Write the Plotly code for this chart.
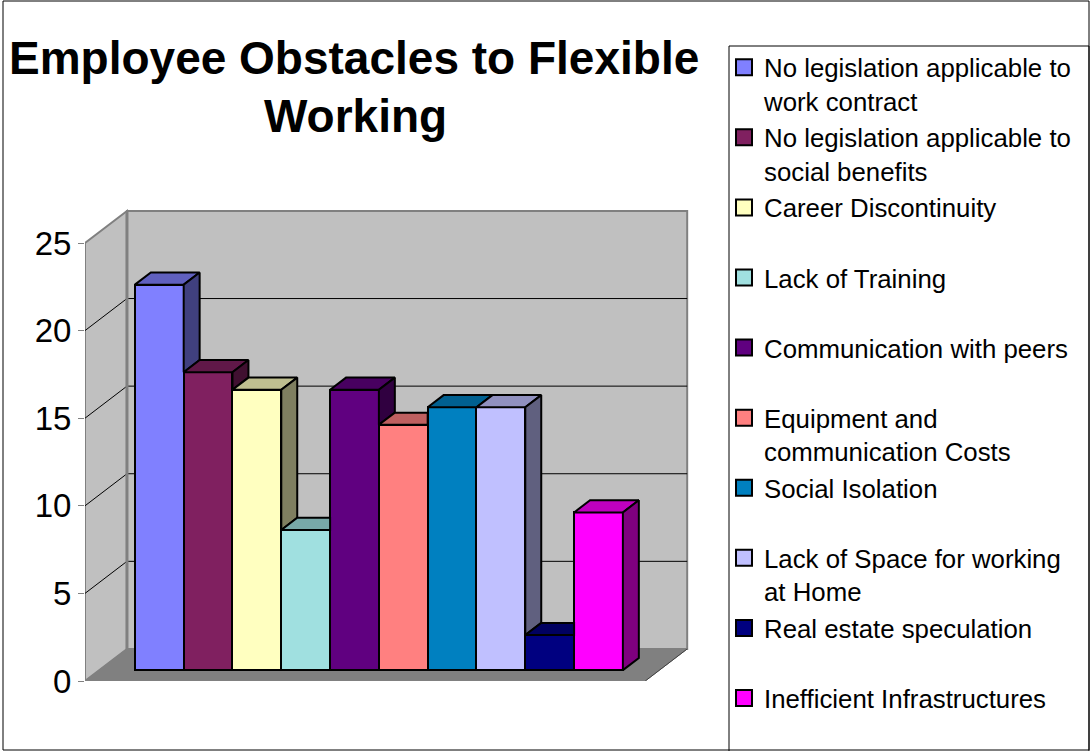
import plotly.graph_objects as go

# ---- data -------------------------------------------------------------
categories = [
    "No legislation applicable to<br>work contract",
    "No legislation applicable to<br>social benefits",
    "Career Discontinuity",
    "Lack of Training",
    "Communication with peers",
    "Equipment and<br>communication Costs",
    "Social Isolation",
    "Lack of Space for working<br>at Home",
    "Real estate speculation",
    "Inefficient Infrastructures",
]
values = [22, 17, 16, 8, 16, 14, 15, 15, 2, 9]
y_ticks = [0, 5, 10, 15, 20, 25]
title_lines = ["Employee Obstacles to Flexible", "Working"]

# ---- style ------------------------------------------------------------
colors = ["#8080FF", "#802060", "#FFFFC0", "#A0E0E0", "#600080",
          "#FF8080", "#0080C0", "#C0C0FF", "#000080", "#FF00FF"]
FONT = "Liberation Sans, Arial, sans-serif"
W, H = 1091, 751

# pseudo-3D geometry (axis units: one bar width on x, one value unit on y)
PX_X, PX_Y = 48.8, 17.52          # pixels per x unit / per y unit
ORIG_X, ORIG_Y = 85, 681          # pixel position of the front-left floor corner
RIGHT_PX, TOP_PX = 700, 200       # right / top pixel edge of the plot area
XL, XR = -1.23, 10.25             # floor front edge, left and right
DX, DY = 0.86, 1.83               # full depth of the chart box
F1, F2 = 0.34, 0.72               # bar front / back depth fraction
WALL = "#C0C0C0"
FLOOR = "#808080"
EDGE = "#808080"


def shade(hex_color, k):
    r, g, b = (int(hex_color[j:j + 2], 16) for j in (1, 3, 5))
    return "#%02X%02X%02X" % (int(r * k), int(g * k), int(b * k))


def path(points):
    return "M " + " L ".join(f"{x},{y}" for x, y in points) + " Z"


fig = go.Figure()

# ---- walls, floor and gridlines (behind the bars) ---------------------
top = y_ticks[-1]
shapes = []
shapes.append(dict(type="path", layer="below", xref="x", yref="y",
                   path=path([(XL + DX, DY), (XR + DX, DY), (XR + DX, top + DY), (XL + DX, top + DY)]),
                   fillcolor=WALL, line=dict(color=EDGE, width=2)))
shapes.append(dict(type="path", layer="below", xref="x", yref="y",
                   path=path([(XL, 0), (XL + DX, DY), (XL + DX, top + DY), (XL, top)]),
                   fillcolor=WALL, line=dict(color=EDGE, width=2)))
shapes.append(dict(type="path", layer="below", xref="x", yref="y",
                   path=path([(XL, 0), (XR, 0), (XR + DX, DY), (XL + DX, DY)]),
                   fillcolor=FLOOR, line=dict(color=FLOOR, width=1)))
for t in y_ticks[1:-1]:
    shapes.append(dict(type="line", layer="below", xref="x", yref="y",
                       x0=XL + DX, y0=t + DY, x1=XR + DX, y1=t + DY,
                       line=dict(color="black", width=1)))
    shapes.append(dict(type="line", layer="below", xref="x", yref="y",
                       x0=XL, y0=t, x1=XL + DX, y1=t + DY,
                       line=dict(color="black", width=1)))
# left wall back edge drawn a little heavier
shapes.append(dict(type="line", layer="below", xref="x", yref="y",
                   x0=XL + DX, y0=DY, x1=XL + DX, y1=top + DY,
                   line=dict(color=EDGE, width=3)))
# darker right edge of the floor
shapes.append(dict(type="line", layer="below", xref="x", yref="y",
                   x0=XR, y0=0, x1=XR + DX, y1=DY,
                   line=dict(color="#404040", width=1)))

# ---- bar front faces --------------------------------------------------
fx, fy = F1 * DX, F1 * DY
bx, by = F2 * DX, F2 * DY
ddx, ddy = bx - fx, by - fy

fig.add_trace(go.Bar(
    x=[i + fx for i in range(len(values))], y=values, base=fy, width=1,
    marker=dict(color=colors, line=dict(color="black", width=2)),
    showlegend=False, hoverinfo="skip"))

# ---- bar tops and right sides ----------------------------------------
for i, v in enumerate(values):
    xl, xr = i - 0.5 + fx, i + 0.5 + fx
    h = fy + v
    nxt = values[i + 1] if i + 1 < len(values) else None
    hn = fy + nxt if nxt is not None else None

    # top face, trimmed where the next (taller) bar's front covers it
    if hn is None or hn <= h:
        pts = [(xl, h), (xr, h), (xr + ddx, h + ddy), (xl + ddx, h + ddy)]
    elif hn >= h + ddy:
        pts = [(xl, h), (xr, h), (xr, h + ddy), (xl + ddx, h + ddy)]
    else:
        t = (hn - h) / ddy
        pts = [(xl, h), (xr, h), (xr, hn), (xr + t * ddx, hn),
               (xr + ddx, h + ddy), (xl + ddx, h + ddy)]
    pts.append(pts[0])
    fig.add_trace(go.Scatter(
        x=[p[0] for p in pts], y=[p[1] for p in pts], mode="lines",
        fill="toself", fillcolor=shade(colors[i], 0.75),
        line=dict(color="black", width=2), showlegend=False, hoverinfo="skip"))

    # right side, only the part rising above the next bar
    lo = 0 if nxt is None else min(v, nxt)
    if lo < v:
        pts = [(xr, fy + lo), (xr + ddx, fy + lo + ddy), (xr + ddx, h + ddy), (xr, h), (xr, fy + lo)]
        fig.add_trace(go.Scatter(
            x=[p[0] for p in pts], y=[p[1] for p in pts], mode="lines",
            fill="toself", fillcolor=shade(colors[i], 0.5),
            line=dict(color="black", width=2), showlegend=False, hoverinfo="skip"))

# ---- legend entries ---------------------------------------------------
for name, c in zip(categories, colors):
    label = name if "<br>" in name else name + "<br> "
    fig.add_trace(go.Scatter(
        x=[None], y=[None], mode="markers", name=label,
        marker=dict(symbol="square", size=16, color=c, line=dict(color="black", width=2))))

# ---- frame, legend box and title --------------------------------------
shapes.append(dict(type="rect", xref="paper", yref="paper",
                   x0=3 / W, x1=1089 / W, y0=1 - 750 / H, y1=1 - 1 / H,
                   line=dict(color="black", width=1)))
shapes.append(dict(type="rect", xref="paper", yref="paper",
                   x0=729 / W, x1=1089 / W, y0=1 - 760 / H, y1=1 - 46 / H,
                   line=dict(color="black", width=1)))

annotations = [
    dict(text=f"<b>{title_lines[0]}</b>", xref="paper", yref="paper",
         x=354 / W, y=1 - 58 / H, xanchor="center", yanchor="middle",
         showarrow=False, font=dict(size=46, family=FONT, color="black")),
    dict(text=f"<b>{title_lines[1]}</b>", xref="paper", yref="paper",
         x=355 / W, y=1 - 116 / H, xanchor="center", yanchor="middle",
         showarrow=False, font=dict(size=46, family=FONT, color="black")),
]

fig.update_layout(
    width=W, height=H,
    margin=dict(l=0, r=0, t=0, b=0, autoexpand=False),
    paper_bgcolor="white", plot_bgcolor="rgba(0,0,0,0)",
    shapes=shapes, annotations=annotations,
    bargap=0,
    xaxis=dict(domain=[ORIG_X / W, RIGHT_PX / W],
               range=[XL, XL + (RIGHT_PX - ORIG_X) / PX_X],
               showgrid=False, zeroline=False, showticklabels=False, showline=False, ticks=""),
    yaxis=dict(domain=[1 - ORIG_Y / H, 1 - TOP_PX / H],
               range=[0, (ORIG_Y - TOP_PX) / PX_Y],
               tickmode="array", tickvals=y_ticks, ticktext=[str(t) for t in y_ticks],
               ticks="outside", ticklen=6, tickcolor=EDGE, tickwidth=1,
               tickfont=dict(size=33, family=FONT, color="black"),
               showgrid=False, zeroline=False, showline=False),
    legend=dict(x=724 / W, y=1 - 44 / H, xanchor="left", yanchor="top",
                font=dict(size=25.8, family=FONT, color="black"),
                bgcolor="rgba(0,0,0,0)", borderwidth=0, valign="top",
                tracegroupgap=0, itemsizing="trace"),
    showlegend=True,
)

fig.write_html("out.html")
